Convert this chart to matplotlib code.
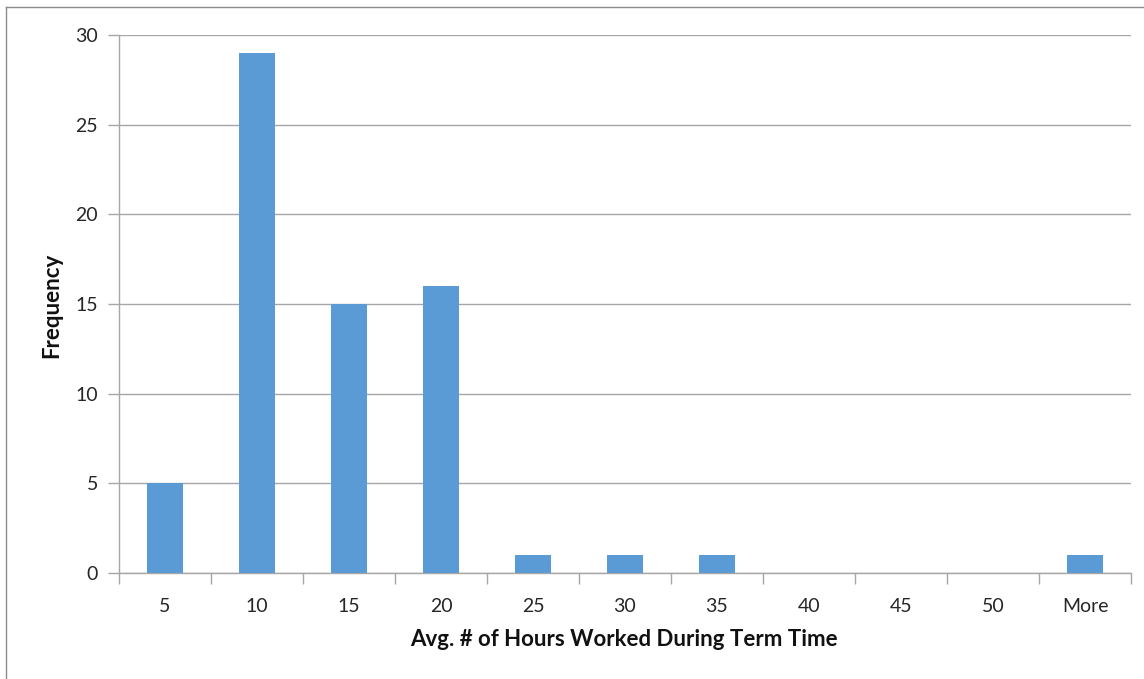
import matplotlib.pyplot as plt
from matplotlib.lines import Line2D
import numpy as np

bins = ['5', '10', '15', '20', '25', '30', '35', '40', '45', '50', 'More']
frequency = [5, 29, 15, 16, 1, 1, 1, 0, 0, 0, 1]

plt.rcParams['font.family'] = ['Lato', 'DejaVu Sans']

fig = plt.figure(figsize=(11.44, 6.79), dpi=100)
ax = fig.add_axes([119 / 1144, 106 / 679, (1131 - 119) / 1144, (573 - 35) / 679])

x = np.arange(len(bins))
ax.bar(x, frequency, width=0.4, color='#5B9BD5', zorder=3)

ax.set_xlim(-0.5, len(bins) - 0.5)
ax.set_ylim(0, 30)
ax.set_yticks(range(0, 31, 5))
ax.grid(axis='y', color='#A6A6A6', linewidth=1, zorder=0)

ax.set_xticks(x)
ax.set_xticklabels(bins)
ax.set_xticks(np.arange(-0.5, len(bins)), minor=True)
ax.tick_params(axis='x', which='major', length=0, pad=18, labelsize=14, colors='#262626')
ax.tick_params(axis='x', which='minor', length=8, width=1, color='#A6A6A6')
ax.tick_params(axis='y', length=8, width=1, color='#A6A6A6', pad=7, labelsize=14, labelcolor='#262626')

for side in ['top', 'right']:
    ax.spines[side].set_visible(False)
for side in ['left', 'bottom']:
    ax.spines[side].set_color('#A6A6A6')
    ax.spines[side].set_linewidth(1)

ax.set_xlabel('Avg. # of Hours Worked During Term Time', fontsize=16, fontweight='bold',
              va='center', color='#111111')
ax.xaxis.set_label_coords(0.499, (573 - 640) / 538)
ax.set_ylabel('Frequency', fontsize=16, fontweight='bold', va='center', color='#111111')
ax.yaxis.set_label_coords((52 - 119) / 1012, 0.498)

# outer chart frame (top and left edges)
fig.add_artist(Line2D([6 / 1144, 6 / 1144], [0, 1 - 7 / 679], transform=fig.transFigure, color='#8C8C8C', lw=1))
fig.add_artist(Line2D([6 / 1144, 1], [1 - 7 / 679, 1 - 7 / 679], transform=fig.transFigure, color='#8C8C8C', lw=1))

fig.savefig('out.png', dpi=100)
